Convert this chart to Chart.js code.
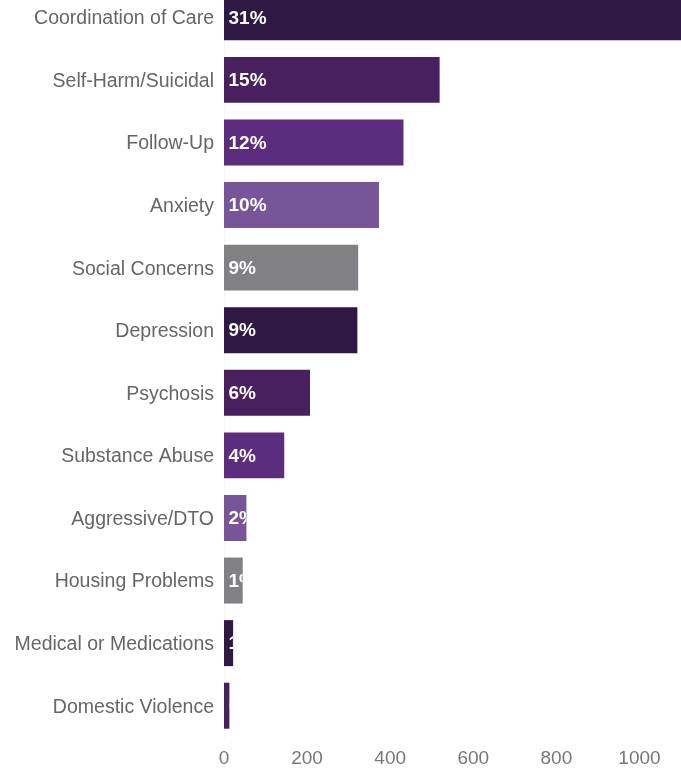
<!DOCTYPE html>
<html>
<head>
<meta charset="utf-8">
<title>Reasons for Contact</title>
<script src="https://cdn.jsdelivr.net/npm/chart.js@4/dist/chart.umd.min.js"></script>
<style>
  html, body { margin: 0; padding: 0; background: #ffffff; overflow: hidden; }
  #wrap { position: absolute; left: 0; top: -14px; width: 681px; height: 782px; }
</style>
</head>
<body>
<div id="wrap"><canvas id="chart" width="681" height="782"></canvas></div>
<script>
// Reasons for contact, counts per category
const categories = [
  'Coordination of Care',
  'Self-Harm/Suicidal',
  'Follow-Up',
  'Anxiety',
  'Social Concerns',
  'Depression',
  'Psychosis',
  'Substance Abuse',
  'Aggressive/DTO',
  'Housing Problems',
  'Medical or Medications',
  'Domestic Violence'
];
const counts = [1105, 519, 432, 373, 323, 321, 207, 145, 54, 45, 22, 13];
const tickValues = [0, 200, 400, 600, 800, 1000];
const palette = ['#2f1843', '#48205f', '#5c2c7e', '#775598', '#818185'];

const total = counts.reduce((a, b) => a + b, 0);
const shareLabels = counts.map(v => Math.round(v / total * 100) + '%');
const barColors = counts.map((_, i) => palette[i % palette.length]);

// white share labels at the start of each bar, clipped to the bar itself
const shareLabelPlugin = {
  id: 'shareLabels',
  afterDatasetsDraw(chart) {
    const ctx = chart.ctx;
    const meta = chart.getDatasetMeta(0);
    const area = chart.chartArea;
    meta.data.forEach((bar, i) => {
      const p = bar.getProps(['x', 'y', 'base', 'height'], true);
      const left = Math.min(p.base, p.x);
      const right = Math.min(Math.max(p.base, p.x), area.right);
      const top = p.y - p.height / 2;
      ctx.save();
      ctx.beginPath();
      ctx.rect(left, top, right - left, p.height);
      ctx.clip();
      ctx.fillStyle = '#ffffff';
      ctx.font = 'bold 19px "Liberation Sans", Arial, sans-serif';
      ctx.textAlign = 'left';
      ctx.textBaseline = 'middle';
      ctx.fillText(shareLabels[i], left + 4.5, p.y + 1);
      ctx.restore();
    });
  }
};

new Chart(document.getElementById('chart'), {
  type: 'bar',
  data: {
    labels: categories,
    datasets: [{
      data: counts,
      backgroundColor: barColors,
      borderWidth: 0,
      barPercentage: 0.735,
      categoryPercentage: 1.0
    }]
  },
  options: {
    indexAxis: 'y',
    responsive: false,
    animation: false,
    layout: { padding: 0 },
    plugins: {
      legend: { display: false },
      tooltip: { enabled: false }
    },
    scales: {
      x: {
        min: 0,
        max: 1100,
        grid: { display: false, drawTicks: false },
        border: { display: false },
        afterBuildTicks(scale) {
          scale.ticks = tickValues.map(v => ({ value: v }));
        },
        afterFit(scale) {
          scale.height = 31;
          scale.paddingLeft = 0;
          scale.paddingRight = 0;
        },
        ticks: {
          padding: 10,
          color: '#777777',
          font: { family: '"Liberation Sans", Arial, sans-serif', size: 19 },
          maxRotation: 0,
          callback: v => String(v)
        }
      },
      y: {
        grid: { display: false, drawTicks: false },
        border: { display: true, color: 'rgba(0,0,0,0.04)' },
        afterFit(scale) {
          scale.width = 224;
          scale.paddingTop = 0;
          scale.paddingBottom = 0;
        },
        ticks: {
          padding: 10,
          labelOffset: 1.5,
          color: '#666666',
          font: { family: '"Liberation Sans", Arial, sans-serif', size: 19.5 }
        }
      }
    }
  },
  plugins: [shareLabelPlugin]
});
</script>
</body>
</html>
